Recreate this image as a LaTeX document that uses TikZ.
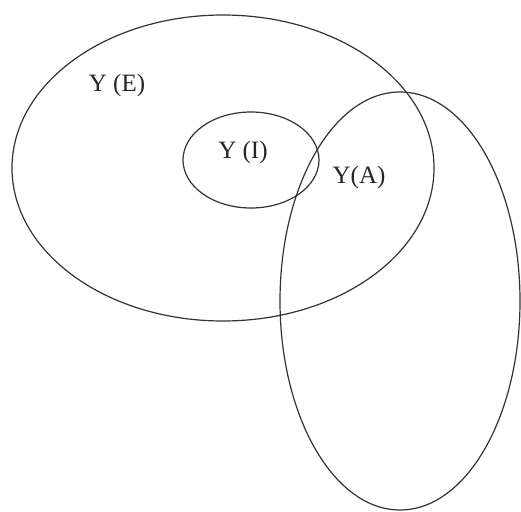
\documentclass[tikz,border=0pt]{standalone}
\usepackage{fontspec}
\setmainfont{Liberation Serif}
\usepackage{tikz}

\begin{document}
\begin{tikzpicture}[x=1pt, y=-1pt, every node/.style={font=\fontsize{25}{28}\selectfont, text=black!85, anchor=base, inner sep=0pt}]
	\useasboundingbox (0,0) rectangle (521,511);
	\fill[white] (0,0) rectangle (521,511);
	\draw[line width=1.2pt, black!80] (223,168) ellipse [x radius=211pt, y radius=153pt];
	\draw[line width=1.2pt, black!80] (251,160) ellipse [x radius=68pt, y radius=48pt];
	\draw[line width=1.2pt, black!80] (400,301) ellipse [x radius=120pt, y radius=209pt];
	\node (lblE) at (117,91) {Y (E)};
	\node (lblI) at (243,158) {Y (I)};
	\node (lblA) at (359,183) {Y(A)};
\end{tikzpicture}
\end{document}
